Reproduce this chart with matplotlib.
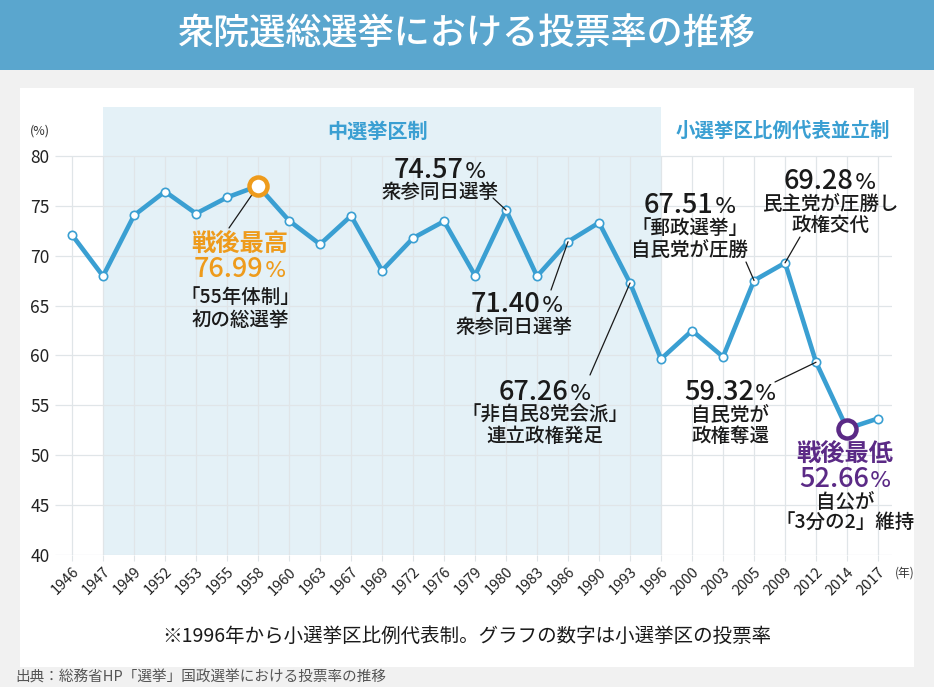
import matplotlib
matplotlib.use('Agg')
import matplotlib.pyplot as plt
from matplotlib.patches import Rectangle

plt.rcParams['font.family'] = ['Noto Sans CJK JP', 'DejaVu Sans']

# ---- data ----
years = ['1946', '1947', '1949', '1952', '1953', '1955', '1958', '1960', '1963',
         '1967', '1969', '1972', '1976', '1979', '1980', '1983', '1986', '1990',
         '1993', '1996', '2000', '2003', '2005', '2009', '2012', '2014', '2017']
turnout = [72.08, 67.95, 74.04, 76.43, 74.22, 75.84, 76.99, 73.51, 71.14,
           73.99, 68.51, 71.76, 73.45, 68.01, 74.57, 67.94, 71.40, 73.31,
           67.26, 59.65, 62.49, 59.86, 67.51, 69.28, 59.32, 52.66, 53.68]
yticks = [40, 45, 50, 55, 60, 65, 70, 75, 80]
shade_start, shade_end = '1947', '1996'
max_year, min_year = '1958', '2014'

W, H = 934, 687
fig = plt.figure(figsize=(W / 100, H / 100), dpi=100)
fig.patch.set_facecolor('#f1f1f1')
renderer = fig.canvas.get_renderer()


def fx(px):
    return px / W


def fy(py):
    return 1 - py / H


BLUE = '#3a9fd2'
ORANGE = '#ee9b1c'
PURPLE = '#5b2a86'
GRID = '#e0e5e8'
INK = '#1a1a1a'

# title bar & white panel
fig.add_artist(Rectangle((0, fy(70)), 1, 70 / H, transform=fig.transFigure,
                         facecolor='#5aa6ce', edgecolor='none', zorder=-10))
fig.add_artist(Rectangle((fx(20), fy(667)), fx(914) - fx(20), (667 - 88) / H,
                         transform=fig.transFigure, facecolor='white',
                         edgecolor='none', zorder=-10))
fig.text(0.5, fy(35), '衆院選総選挙における投票率の推移', color='white',
         fontsize=26, ha='center', va='center', fontweight='medium')

ax = fig.add_axes([fx(55), fy(555), fx(892) - fx(55), (555 - 107) / H])
ax.set_facecolor('none')
n = len(years)
x = list(range(n))
x0, x1 = -0.55, 26.45
ax.set_xlim(x0, x1)
ax.set_ylim(40, 84.9)
for s in ax.spines.values():
    s.set_visible(False)

ax.axvspan(years.index(shade_start), years.index(shade_end), color='#e4f1f7',
           zorder=0, lw=0)
ax.vlines(x, 40, 80, color=GRID, lw=0.9, zorder=1)
ax.hlines(yticks, x0, x1, color=GRID, lw=0.9, zorder=1)

ax.plot(x, turnout, color=BLUE, lw=3.3, marker='o', ms=6, mfc='white',
        mec=BLUE, mew=1.2, zorder=3, solid_joinstyle='miter')
imax = years.index(max_year)
imin = years.index(min_year)
ax.plot(imax, turnout[imax], 'o', ms=13, mfc='white', mec=ORANGE, mew=3.2, zorder=5)
ax.plot(imin, turnout[imin], 'o', ms=13, mfc='white', mec=PURPLE, mew=3.2, zorder=5)

ax.set_yticks(yticks)
ax.set_yticklabels([str(v) for v in yticks], fontsize=12.5, color='#222222')
ax.tick_params(axis='y', length=0, pad=4)
ax.set_xticks(x)
ax.set_xticklabels(years, rotation=45, ha='right', va='top',
                   rotation_mode='anchor', fontsize=10.5, color='#222222')
ax.tick_params(axis='x', length=4, color=GRID, pad=3)

fig.text(fx(40), fy(131), '(%)', fontsize=9, ha='center', va='center', color='#333333')
fig.text(fx(905), fy(573), '(年)', fontsize=8.5, ha='center', va='center', color='#333333')

fig.text(fx(378), fy(131), '中選挙区制', fontsize=14.5, color=BLUE,
         fontweight='bold', ha='center', va='center')
fig.text(fx(783), fy(131), '小選挙区比例代表並立制', fontsize=14, color=BLUE,
         fontweight='bold', ha='center', va='center')


def label(px, py, s, size=14, color=INK, weight='medium'):
    fig.text(fx(px), fy(py), s, fontsize=size, color=color, ha='center',
             va='center', fontweight=weight, linespacing=1.0)


def number(px, py, s, size=19.5, color=INK):
    """Draw a number with a smaller % sign, centred at (px, py)."""
    t1 = fig.text(0, 0, s, fontsize=size, color=color, fontweight='medium',
                  ha='left', va='baseline')
    t2 = fig.text(0, 0, '%', fontsize=size * 0.82, color=color,
                  fontweight='normal', ha='left', va='baseline',
                  family=['DejaVu Sans'])
    w1 = t1.get_window_extent(renderer).width
    w2 = t2.get_window_extent(renderer).width
    total = w1 + w2 + 1
    left = px - total / 2
    base = py + size * 0.36 * 100 / 72 * 0.75
    t1.set_position((fx(left), fy(base)))
    t2.set_position((fx(left + w1 + 1), fy(base)))


def leader(idx, px, py):
    ax.annotate('', xy=(idx, turnout[idx]), xycoords='data',
                xytext=(fx(px), fy(py)), textcoords='figure fraction',
                arrowprops=dict(arrowstyle='-', color=INK, lw=0.9,
                                shrinkA=0, shrinkB=0), zorder=4)


# 1958
label(240, 245, '戦後最高', 17.5, ORANGE, 'bold')
number(240, 270, '76.99', 19.5, ORANGE)
label(240, 297, '「55年体制」', 14)
label(240, 321, '初の総選挙', 14)
leader(imax, 229, 228)

# 1980
i = years.index('1980')
number(440, 171, '74.57')
label(440, 193, '衆参同日選挙', 14)
leader(i, 493, 198)

# 1986
i = years.index('1986')
number(517, 305, '71.40')
label(514, 328, '衆参同日選挙', 14)
leader(i, 551, 290)

# 1993
i = years.index('1993')
number(545, 393, '67.26')
label(545, 415, '「非自民8党会派」', 14)
label(545, 437, '連立政権発足', 14)
leader(i, 590, 375)

# 2005
i = years.index('2005')
number(690, 206, '67.51')
label(690, 228, '「郵政選挙」', 14)
label(690, 250, '自民党が圧勝', 14)
leader(i, 746, 262)

# 2009
i = years.index('2009')
number(830, 182, '69.28')
label(830, 204, '民主党が圧勝し', 14)
label(830, 225, '政権交代', 14)
leader(i, 800, 237)

# 2012
i = years.index('2012')
number(730, 393, '59.32')
label(730, 415, '自民党が', 14)
label(730, 436, '政権奪還', 14)
leader(i, 775, 382)

# 2014
label(845, 455, '戦後最低', 17.5, PURPLE, 'bold')
number(845, 480, '52.66', 19.5, PURPLE)
label(845, 502, '自公が', 14)
label(845, 523, '「3分の2」維持', 14)

fig.text(0.5, fy(636), '※1996年から小選挙区比例代表制。グラフの数字は小選挙区の投票率',
         fontsize=14, ha='center', va='center', color=INK)
fig.text(fx(15), fy(677), '出典：総務省HP「選挙」国政選挙における投票率の推移',
         fontsize=10.5, ha='left', va='center', color='#555555')

fig.savefig('out.png', dpi=100)
